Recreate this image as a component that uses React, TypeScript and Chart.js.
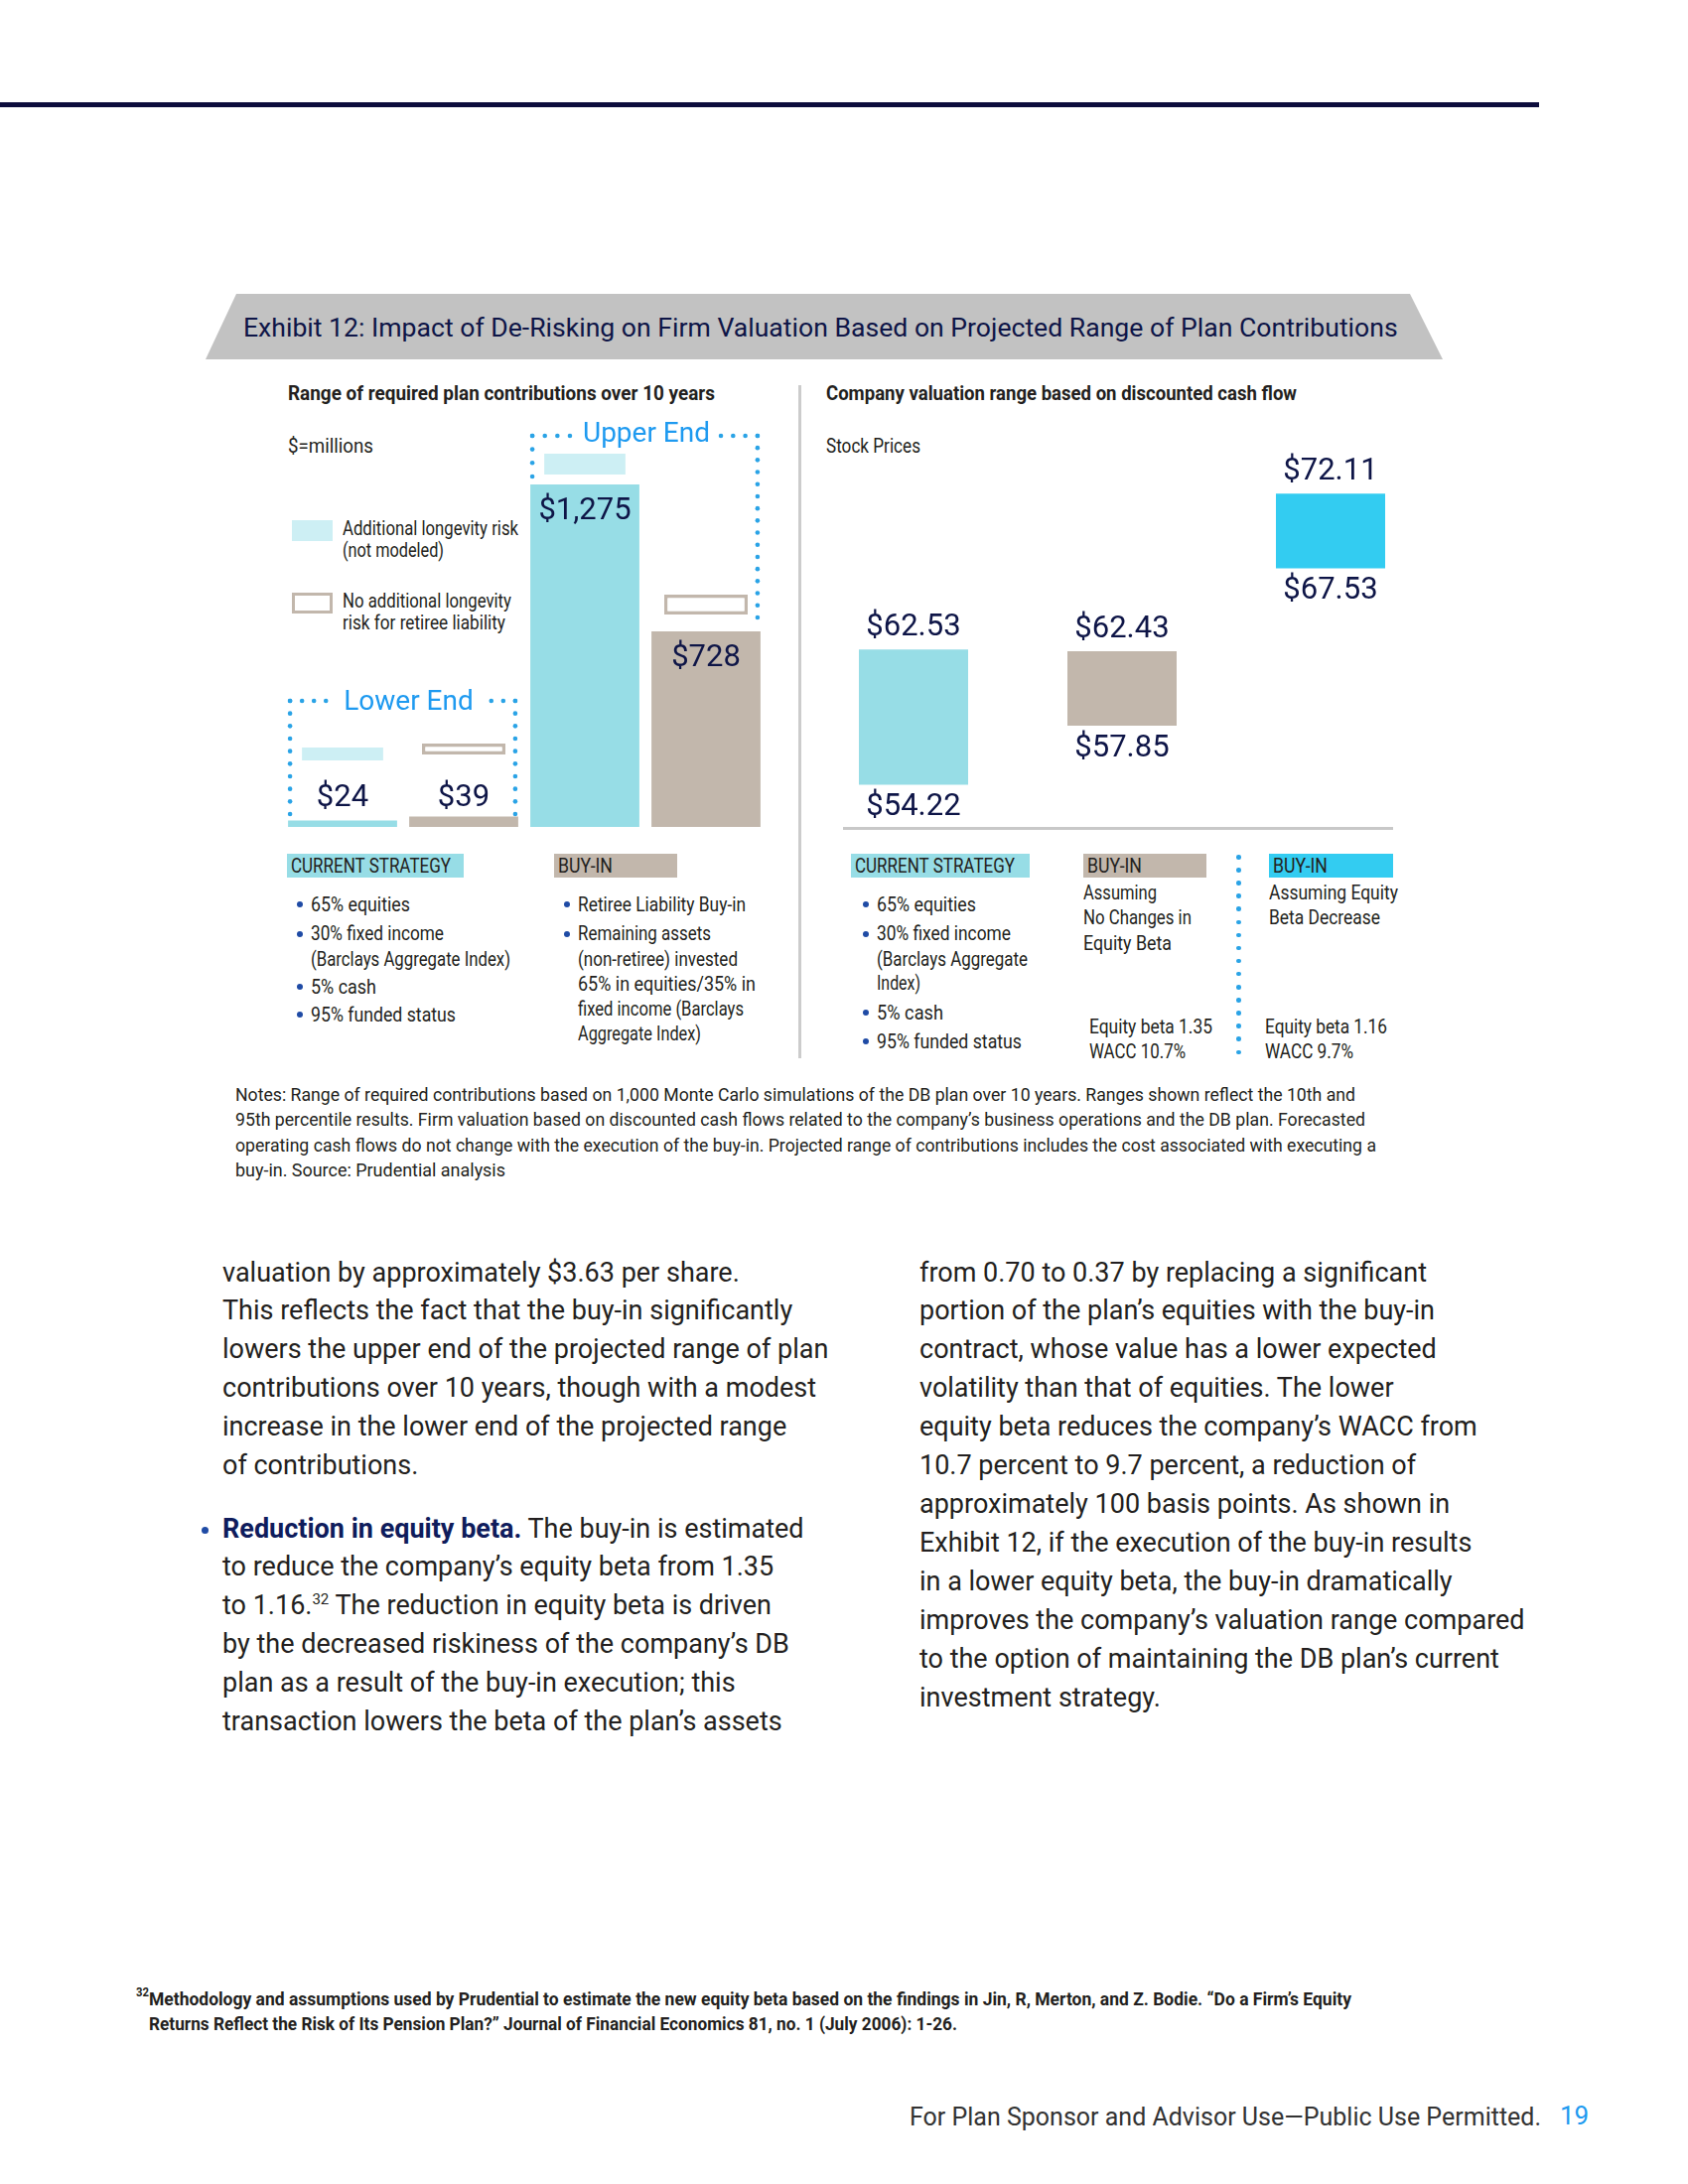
import React, { useEffect, useLayoutEffect, useRef } from "react";
import { Chart, registerables } from "chart.js";

Chart.register(...registerables);

// ---------- Data: left chart (required plan contributions, $ millions) ----------
const contribCategories = [
  "Lower End - Current Strategy",
  "Lower End - Buy-in",
  "Upper End - Current Strategy",
  "Upper End - Buy-in",
];
const contribValues = [24, 39, 1275, 728];
const contribLabels = ["$24", "$39", "$1,275", "$728"];
// indicator boxes (illustrative)
const longevityRiskBoxes = [[248, 296], null, [1312, 1389], null];
const noLongevityBoxes = [null, [270, 310], null, [791, 865]];
const contribMin = 0;
const contribMax = 1478;

// ---------- Data: right chart (stock price valuation range) ----------
const valuationCategories = [
  "Current Strategy",
  "Buy-in (no change in equity beta)",
  "Buy-in (equity beta decrease)",
];
const valuationLow = [54.22, 57.85, 67.53];
const valuationHigh = [62.53, 62.43, 72.11];
const valuationMin = 51.5;
const valuationMax = 75;

// ---------- Styles ----------
const CYAN = "#97DDE6";
const TAN = "#C2B7AC";
const BRIGHT = "#33CCF1";
const LIGHT = "#CDEFF4";
const NAVY = "#0E1547";
const BLUE = "#1E9AF0";
const DOT = "#2AA3E6";
const BULLET = "#1F4BA5";
const INK = "#231F20";
const SANS = "Roboto, 'Noto Sans', sans-serif";

function dots(ctx: CanvasRenderingContext2D, x1: number, y1: number, x2: number, y2: number) {
  const len = Math.hypot(x2 - x1, y2 - y1);
  const n = Math.max(1, Math.round(len / 12.6));
  ctx.fillStyle = DOT;
  for (let i = 0; i <= n; i++) {
    const t = i / n;
    ctx.beginPath();
    ctx.arc(x1 + (x2 - x1) * t, y1 + (y2 - y1) * t, 2.3, 0, Math.PI * 2);
    ctx.fill();
  }
}

const contribPlugin = {
  id: "contribAnnotations",
  afterDatasetsDraw(chart: any) {
    const ctx: CanvasRenderingContext2D = chart.ctx;
    const bars = chart.getDatasetMeta(0).data as any[];
    const area = chart.chartArea;
    ctx.save();
    ctx.font = `31px ${SANS}`;
    ctx.fillStyle = NAVY;
    ctx.textAlign = "center";
    ctx.textBaseline = "middle";
    bars.forEach((b, i) => {
      const h = b.base - b.y;
      const y = h < 40 ? area.bottom - 29 : b.y + 27;
      ctx.fillText(contribLabels[i], b.x, y);
    });

    ctx.font = `28px ${SANS}`;
    // Upper End box
    {
      const left = bars[2].x - bars[2].width / 2 + 2;
      const right = bars[3].x + bars[3].width / 2 - 3;
      const top = bars[2].y - 49;
      const leftBottom = top + 41;
      const rightBottom = bars[3].y - 14;
      const cx = (left + right) / 2 + 1.5;
      const w = ctx.measureText("Upper End").width;
      ctx.fillStyle = BLUE;
      ctx.fillText("Upper End", cx, top - 1);
      dots(ctx, left, top, cx - w / 2 - 13, top);
      dots(ctx, cx + w / 2 + 11, top, right, top);
      dots(ctx, left, top, left, leftBottom);
      dots(ctx, right, top, right, rightBottom);
    }
    // Lower End box
    {
      const left = bars[0].x - bars[0].width / 2 + 2;
      const right = bars[1].x + bars[1].width / 2 - 3;
      const top = area.bottom - 127;
      const bottom = area.bottom - 13;
      const cx = (left + right) / 2 + 6;
      const w = ctx.measureText("Lower End").width;
      ctx.fillStyle = BLUE;
      ctx.fillText("Lower End", cx, top + 2);
      dots(ctx, left, top, cx - w / 2 - 18, top);
      dots(ctx, cx + w / 2 + 18, top, right, top);
      dots(ctx, left, top, left, bottom);
      dots(ctx, right, top, right, bottom);
    }
    ctx.restore();
  },
};

const valuationPlugin = {
  id: "valuationLabels",
  afterDatasetsDraw(chart: any) {
    const ctx: CanvasRenderingContext2D = chart.ctx;
    const bars = chart.getDatasetMeta(0).data as any[];
    ctx.save();
    ctx.font = `31px ${SANS}`;
    ctx.fillStyle = NAVY;
    ctx.textAlign = "center";
    ctx.textBaseline = "middle";
    bars.forEach((b, i) => {
      const top = Math.min(b.y, b.base);
      const bottom = Math.max(b.y, b.base);
      ctx.fillText("$" + valuationHigh[i].toFixed(2), b.x, top - 22);
      ctx.fillText("$" + valuationLow[i].toFixed(2), b.x, bottom + 23);
    });
    ctx.restore();
  },
};

function ContributionsChart() {
  const ref = useRef<HTMLCanvasElement | null>(null);
  useEffect(() => {
    if (!ref.current) return;
    const chart = new Chart(ref.current, {
      type: "bar",
      data: {
        labels: contribCategories,
        datasets: [
          {
            label: "Required contributions",
            data: contribValues,
            backgroundColor: [CYAN, TAN, CYAN, TAN],
            barPercentage: 0.9,
            categoryPercentage: 1,
            grouped: false,
          } as any,
          {
            label: "Additional longevity risk (not modeled)",
            data: longevityRiskBoxes as any,
            backgroundColor: LIGHT,
            barPercentage: 0.67,
            categoryPercentage: 1,
            grouped: false,
            borderSkipped: false,
          } as any,
          {
            label: "No additional longevity risk for retiree liability",
            data: noLongevityBoxes as any,
            backgroundColor: "#FFFFFF",
            borderColor: TAN,
            borderWidth: 3.5,
            barPercentage: 0.69,
            categoryPercentage: 1,
            grouped: false,
            borderSkipped: false,
          } as any,
        ],
      },
      options: {
        responsive: false,
        maintainAspectRatio: false,
        animation: false,
        layout: { padding: { left: 14, right: 8, top: 28, bottom: 12 } },
        plugins: { legend: { display: false }, tooltip: { enabled: false } },
        scales: {
          x: { display: false },
          y: { display: false, min: contribMin, max: contribMax },
        },
      },
      plugins: [contribPlugin],
    });
    return () => chart.destroy();
  }, []);
  return (
    <canvas
      ref={ref}
      width={510}
      height={440}
      style={{ position: "absolute", left: 270, top: 405, width: 510, height: 440 }}
    />
  );
}

function ValuationChart() {
  const ref = useRef<HTMLCanvasElement | null>(null);
  useEffect(() => {
    if (!ref.current) return;
    const chart = new Chart(ref.current, {
      type: "bar",
      data: {
        labels: valuationCategories,
        datasets: [
          {
            label: "Stock price range",
            data: valuationLow.map((l, i) => [l, valuationHigh[i]]) as any,
            backgroundColor: [CYAN, TAN, BRIGHT],
            barPercentage: 0.5238,
            categoryPercentage: 1,
            borderSkipped: false,
          } as any,
        ],
      },
      options: {
        responsive: false,
        maintainAspectRatio: false,
        animation: false,
        layout: { padding: { left: 15, right: 5, top: 30, bottom: 15 } },
        plugins: { legend: { display: false }, tooltip: { enabled: false } },
        scales: {
          x: { display: false },
          y: { display: false, min: valuationMin, max: valuationMax },
        },
      },
      plugins: [valuationPlugin],
    });
    return () => chart.destroy();
  }, []);
  return (
    <canvas
      ref={ref}
      width={650}
      height={430}
      style={{ position: "absolute", left: 800, top: 420, width: 650, height: 430 }}
    />
  );
}

// Text squeezed horizontally to a measured width (to imitate the condensed face)
type FP = {
  x: number;
  y: number;
  w: number;
  size: number;
  weight?: number;
  color?: string;
  children: React.ReactNode;
};
function F({ x, y, w, size, weight = 400, color = INK, children }: FP) {
  const ref = useRef<HTMLSpanElement | null>(null);
  const l = Math.round(size * 1.3);
  useLayoutEffect(() => {
    const el = ref.current;
    if (!el) return;
    el.style.transform = "none";
    const nat = el.getBoundingClientRect().width;
    if (nat > 0) el.style.transform = `scaleX(${w / nat})`;
  }, [w]);
  return (
    <span
      ref={ref}
      style={{
        position: "absolute",
        left: x,
        top: y - l / 2,
        display: "inline-block",
        transformOrigin: "0 50%",
        whiteSpace: "nowrap",
        fontFamily: SANS,
        fontSize: size,
        fontWeight: weight,
        color,
        lineHeight: `${l}px`,
      }}
    >
      {children}
    </span>
  );
}

type TP = {
  x: number;
  y: number;
  size: number;
  weight?: number;
  color?: string;
  children: React.ReactNode;
};
function T({ x, y, size, weight = 400, color = INK, children }: TP) {
  const l = Math.round(size * 1.3);
  return (
    <div
      style={{
        position: "absolute",
        left: x,
        top: y - l / 2,
        fontFamily: SANS,
        fontSize: size,
        fontWeight: weight,
        color,
        lineHeight: `${l}px`,
        whiteSpace: "nowrap",
      }}
    >
      {children}
    </div>
  );
}

function Dot({ x, y, r = 3 }: { x: number; y: number; r?: number }) {
  return (
    <div
      style={{
        position: "absolute",
        left: x - r,
        top: y - r,
        width: r * 2,
        height: r * 2,
        borderRadius: "50%",
        background: BULLET,
      }}
    />
  );
}

const CS = 19.5; // condensed text size

function Bullets({ bx, tx, lines }: { bx: number; tx: number; lines: [number, string, boolean, number][] }) {
  return (
    <>
      {lines.map(([y, s, b, w], i) => (
        <React.Fragment key={i}>
          {b && <Dot x={bx} y={y} />}
          <F x={tx} y={y} w={w} size={CS}>
            {s}
          </F>
        </React.Fragment>
      ))}
    </>
  );
}

function Tag({ x, w, bg, text, tw }: { x: number; w: number; bg: string; text: string; tw: number }) {
  return (
    <>
      <div style={{ position: "absolute", left: x, top: 860, width: w, height: 24, background: bg }} />
      <F x={x + 4} y={872} w={tw} size={CS}>
        {text}
      </F>
    </>
  );
}

const bodyStyle = (x: number, top: number): React.CSSProperties => ({
  position: "absolute",
  left: x,
  top,
  fontFamily: SANS,
  fontSize: 27,
  lineHeight: "38.9px",
  color: INK,
  whiteSpace: "nowrap",
});

export default function App() {
  const vdots: number[] = [];
  for (let y = 863; y <= 1060; y += 13.1) vdots.push(y);
  return (
    <div
      style={{
        position: "absolute",
        left: 0,
        top: 0,
        width: 1700,
        height: 2200,
        background: "#fff",
        overflow: "hidden",
      }}
    >
      {/* top rule */}
      <div style={{ position: "absolute", left: 0, top: 103, width: 1550, height: 5, background: "#0D0D3D" }} />

      {/* banner */}
      <div
        style={{
          position: "absolute",
          left: 207,
          top: 296,
          width: 1246,
          height: 66,
          background: "#C2C2C2",
          clipPath: "polygon(31px 0, 1213px 0, 1246px 100%, 0 100%)",
        }}
      />
      <T x={245} y={329} size={26.6} color={NAVY}>
        Exhibit 12: Impact of De-Risking on Firm Valuation Based on Projected Range of Plan Contributions
      </T>

      {/* divider */}
      <div style={{ position: "absolute", left: 804, top: 388, width: 3, height: 678, background: "#CCCCCC" }} />

      {/* left panel texts */}
      <F x={290} y={396} w={430} size={21} weight={700}>
        Range of required plan contributions over 10 years
      </F>
      <F x={290} y={449} w={86} size={CS}>
        $=millions
      </F>
      <div style={{ position: "absolute", left: 294, top: 524, width: 41, height: 21, background: LIGHT }} />
      <F x={345} y={532} w={177} size={CS}>
        Additional longevity risk
      </F>
      <F x={345} y={554} w={102} size={CS}>
        (not modeled)
      </F>
      <div
        style={{
          position: "absolute",
          left: 294,
          top: 597,
          width: 41,
          height: 21,
          border: `3px solid ${TAN}`,
          boxSizing: "border-box",
        }}
      />
      <F x={345} y={605} w={170} size={CS}>
        No additional longevity
      </F>
      <F x={345} y={627} w={164} size={CS}>
        risk for retiree liability
      </F>

      <ContributionsChart />

      {/* right panel texts */}
      <F x={832} y={396} w={474} size={21} weight={700}>
        Company valuation range based on discounted cash flow
      </F>
      <F x={832} y={449} w={95} size={CS}>
        Stock Prices
      </F>
      <ValuationChart />
      <div style={{ position: "absolute", left: 849, top: 833, width: 554, height: 3, background: "#C8C8C8" }} />

      {/* strategy descriptions */}
      <Tag x={289} w={178} bg={CYAN} text="CURRENT STRATEGY" tw={161} />
      <Bullets
        bx={302}
        tx={313}
        lines={[
          [911, "65% equities", true, 100],
          [940.5, "30% fixed income", true, 134],
          [966, "(Barclays Aggregate Index)", false, 201],
          [994, "5% cash", true, 66],
          [1022, "95% funded status", true, 146],
        ]}
      />
      <Tag x={558} w={124} bg={TAN} text="BUY-IN" tw={55} />
      <Bullets
        bx={571}
        tx={582}
        lines={[
          [911, "Retiree Liability Buy-in", true, 169],
          [940.5, "Remaining assets", true, 134],
          [966, "(non-retiree) invested", false, 161],
          [991, "65% in equities/35% in", false, 179],
          [1016, "fixed income (Barclays", false, 167],
          [1041, "Aggregate Index)", false, 124],
        ]}
      />
      <Tag x={857} w={180} bg={CYAN} text="CURRENT STRATEGY" tw={161} />
      <Bullets
        bx={872}
        tx={883}
        lines={[
          [911, "65% equities", true, 100],
          [940.5, "30% fixed income", true, 135],
          [966, "(Barclays Aggregate", false, 152],
          [990, "Index)", false, 44],
          [1020, "5% cash", true, 67],
          [1049, "95% funded status", true, 146],
        ]}
      />
      <Tag x={1091} w={124} bg={TAN} text="BUY-IN" tw={55} />
      <F x={1091} y={899} w={74} size={CS}>Assuming</F>
      <F x={1091} y={924} w={109} size={CS}>No Changes in</F>
      <F x={1091} y={950} w={89} size={CS}>Equity Beta</F>
      <F x={1097} y={1034} w={124} size={CS}>Equity beta 1.35</F>
      <F x={1097} y={1059} w={97} size={CS}>WACC 10.7%</F>
      {vdots.map((y, i) => (
        <div
          key={i}
          style={{
            position: "absolute",
            left: 1245,
            top: y - 2,
            width: 4.5,
            height: 4.5,
            borderRadius: "50%",
            background: DOT,
          }}
        />
      ))}
      <Tag x={1278} w={125} bg={BRIGHT} text="BUY-IN" tw={55} />
      <F x={1278} y={899} w={130} size={CS}>Assuming Equity</F>
      <F x={1278} y={924} w={112} size={CS}>Beta Decrease</F>
      <F x={1274} y={1034} w={123} size={CS}>Equity beta 1.16</F>
      <F x={1274} y={1059} w={89} size={CS}>WACC 9.7%</F>

      {/* notes */}
      <F x={237} y={1102.5} w={1128} size={19}>
        Notes: Range of required contributions based on 1,000 Monte Carlo simulations of the DB plan over 10 years. Ranges shown reflect the 10th and
      </F>
      <F x={237} y={1127.7} w={1138} size={19}>
        95th percentile results. Firm valuation based on discounted cash flows related to the company’s business operations and the DB plan. Forecasted
      </F>
      <F x={237} y={1153} w={1149} size={19}>
        operating cash flows do not change with the execution of the buy-in. Projected range of contributions includes the cost associated with executing a
      </F>
      <F x={237} y={1178} w={272} size={19}>
        buy-in. Source: Prudential analysis
      </F>

      {/* body text left column */}
      <div style={bodyStyle(224, 1282 - 19.45)}>
        valuation by approximately $3.63 per share.
        <br />
        This reflects the fact that the buy-in significantly
        <br />
        lowers the upper end of the projected range of plan
        <br />
        contributions over 10 years, though with a modest
        <br />
        increase in the lower end of the projected range
        <br />
        of contributions.
      </div>
      <Dot x={206} y={1541} r={3.5} />
      <div style={bodyStyle(224, 1540 - 19.45)}>
        <span style={{ fontWeight: 700, color: "#0F1C5C" }}>Reduction in equity beta.</span> The buy-in is estimated
        <br />
        to reduce the company’s equity beta from 1.35
        <br />
        to 1.16.<sup style={{ fontSize: 15, lineHeight: 0 }}>32</sup> The reduction in equity beta is driven
        <br />
        by the decreased riskiness of the company’s DB
        <br />
        plan as a result of the buy-in execution; this
        <br />
        transaction lowers the beta of the plan’s assets
      </div>

      {/* body text right column */}
      <div style={bodyStyle(926, 1282 - 19.45)}>
        from 0.70 to 0.37 by replacing a significant
        <br />
        portion of the plan’s equities with the buy-in
        <br />
        contract, whose value has a lower expected
        <br />
        volatility than that of equities. The lower
        <br />
        equity beta reduces the company’s WACC from
        <br />
        10.7 percent to 9.7 percent, a reduction of
        <br />
        approximately 100 basis points. As shown in
        <br />
        Exhibit 12, if the execution of the buy-in results
        <br />
        in a lower equity beta, the buy-in dramatically
        <br />
        improves the company’s valuation range compared
        <br />
        to the option of maintaining the DB plan’s current
        <br />
        investment strategy.
      </div>

      {/* footnote */}
      <F x={137} y={2007} w={13} size={12} weight={700}>
        32
      </F>
      <F x={150} y={2013} w={1211} size={19} weight={700}>
        Methodology and assumptions used by Prudential to estimate the new equity beta based on the findings in Jin, R, Merton, and Z. Bodie. “Do a Firm’s Equity
      </F>
      <F x={150} y={2038} w={814} size={19} weight={700}>
        Returns Reflect the Risk of Its Pension Plan?” Journal of Financial Economics 81, no. 1 (July 2006): 1-26.
      </F>

      {/* footer */}
      <T x={916} y={2132} size={25} color="#333333">
        For Plan Sponsor and Advisor Use—Public Use Permitted.
      </T>
      <T x={1571} y={2131} size={26} color={BLUE}>
        19
      </T>
    </div>
  );
}
